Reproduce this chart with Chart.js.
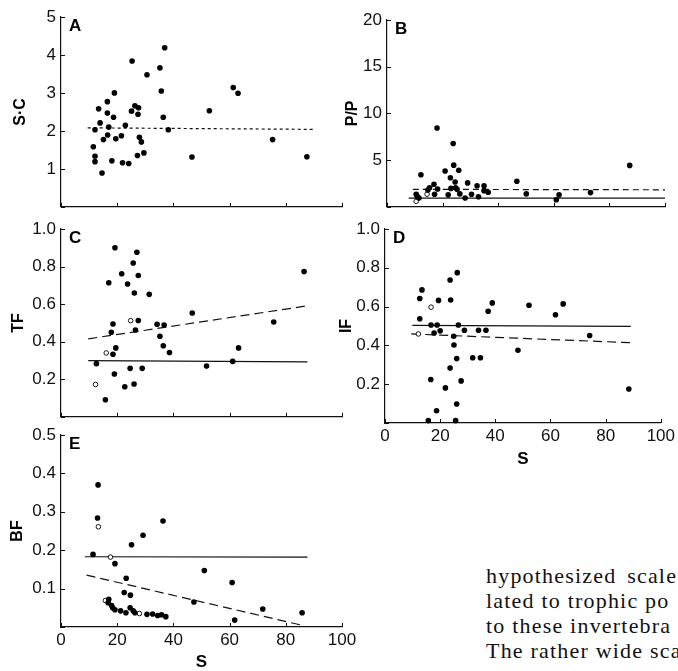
<!DOCTYPE html>
<html><head><meta charset="utf-8">
<script src="https://cdn.jsdelivr.net/npm/chart.js@4.4.1/dist/chart.umd.min.js"></script>
<style>
html,body{margin:0;padding:0;background:#fff;width:678px;height:671px;overflow:hidden;position:relative}
canvas{position:absolute}
#txt{position:absolute;left:486px;top:563px;font-family:"Liberation Serif","DejaVu Serif",serif;font-size:22px;line-height:25px;white-space:nowrap;color:#111;letter-spacing:1.2px}
</style></head><body>
<canvas id="cA" width="352" height="222" style="left:0;top:0"></canvas>
<canvas id="cB" width="343" height="222" style="left:335px;top:0"></canvas>
<canvas id="cC" width="352" height="225" style="left:0;top:207px"></canvas>
<canvas id="cD" width="343" height="265" style="left:335px;top:207px"></canvas>
<canvas id="cE" width="360" height="261" style="left:0;top:410px"></canvas>
<div id="txt"><div style="word-spacing:4px">hypothesized scale</div><div>lated to trophic po</div><div>to these invertebra</div><div>The rather wide sca</div></div>
<script>
// ---- Panel A: S·C vs S
const A_S  = [11.5,12.1,12.1,12.1,13.4,13.9,14.6,15.1,16.5,16.5,16.6,17.0,18.1,18.7,19.0,19.5,21.5,21.9,22.9,24.1,25.3,25.1,26.3,27.2,27.4,27.6,27.9,28.6,29.5,30.6,35.2,35.7,36.4,36.9,38.2,46.6,52.8,61.3,63.0,75.3,87.5];
const A_SC = [1.58,2.03,1.33,1.19,2.58,2.21,0.89,1.77,2.77,2.47,1.89,2.10,1.21,2.36,3.00,1.79,1.87,1.16,2.15,1.14,3.84,2.52,2.66,1.35,2.44,2.61,1.83,1.71,1.42,3.48,3.66,3.05,2.36,4.19,2.03,1.31,2.53,3.14,2.99,1.77,1.32];
const A_dashS = [9.5, 89.8];
const A_dashV = [2.08, 2.04];

// ---- Panel B: P/P vs S
const B_S  = [10.5,10.9,11.5,12.2,14.7,15.3,16.9,17.1,18.0,18.2,20.9,22.0,22.8,23.0,23.8,24.0,24.5,24.7,25.2,25.8,26.2,28.1,29.0,30.4,32.4,32.9,34.9,34.9,36.4,46.7,50.1,60.9,61.9,73.2,87.3];
const B_PP = [1.35,1.10,0.93,3.43,1.80,2.04,2.42,1.35,8.44,1.90,3.84,1.28,3.11,1.97,6.78,4.46,2.66,2.04,1.87,3.91,1.38,0.93,2.56,1.35,2.25,1.07,2.25,1.73,1.56,2.73,1.38,0.76,1.28,1.52,4.43];
const B_openS = [10.5, 14.4];
const B_openV = [0.59, 1.35];
const B_dashS = [9.3, 100];
const B_dashV = [1.87, 1.82];
const B_solidS = [7.8, 100];
const B_solidV = [0.93, 0.93];

// ---- Panel C: TF vs S
const C_S  = [12.6,15.8,17.0,17.9,18.5,18.5,19.0,19.2,19.5,21.6,22.7,23.7,24.6,25.7,26.0,26.1,26.5,27.0,27.5,27.5,28.9,31.4,34.2,35.2,36.7,36.4,38.6,46.7,51.8,61.1,63.2,75.7,86.5];
const C_TF = [0.283,0.091,0.714,0.45,0.494,0.333,0.228,0.90,0.367,0.762,0.16,0.707,0.258,0.819,0.175,0.659,0.462,0.876,0.752,0.513,0.258,0.652,0.493,0.429,0.489,0.378,0.342,0.553,0.27,0.295,0.367,0.505,0.774];
const C_openS = [12.3, 16.1, 24.8];
const C_openV = [0.172, 0.34, 0.512];
const C_dashS = [9.7, 87.7];
const C_dashV = [0.415, 0.591];
const C_solidS = [9.7, 87.7];
const C_solidV = [0.299, 0.292];

// ---- Panel D: IF vs S
const D_S  = [12.6,12.6,13.4,15.7,16.6,16.7,17.8,18.7,18.9,19.4,20.0,21.9,23.6,23.6,23.8,24.9,25.0,25.6,26.0,26.0,26.2,26.6,27.6,28.8,31.8,33.9,34.6,36.6,37.4,38.9,48.2,52.2,61.8,64.6,74.2,88.4];
const D_IF = [0.642,0.537,0.686,0.012,0.224,0.505,0.464,0.063,0.505,0.632,0.475,0.181,0.283,0.737,0.634,0.447,0.402,0.012,0.098,0.332,0.775,0.505,0.217,0.478,0.336,0.478,0.336,0.478,0.576,0.619,0.375,0.607,0.558,0.614,0.451,0.175];
const D_openS = [12.1, 16.7];
const D_openV = [0.459, 0.597];
const D_solidS = [9.9, 89.1];
const D_solidV = [0.503, 0.498];
const D_dashS = [9.5, 88.8];
const D_dashV = [0.459, 0.414];

// ---- Panel E: BF vs S
const E_S  = [11.4,13.2,13.0,17.0,16.8,18.0,18.4,19.2,19.2,21.2,23.1,22.5,23.2,24.6,24.7,25.1,25.7,26.3,29.2,30.6,32.6,34.4,35.8,36.3,37.3,47.3,51.0,60.9,61.8,71.8,85.8];
const E_BF = [0.189,0.370,0.284,0.072,0.063,0.056,0.050,0.045,0.165,0.042,0.037,0.090,0.127,0.050,0.083,0.214,0.042,0.037,0.239,0.033,0.034,0.030,0.032,0.276,0.027,0.065,0.147,0.116,0.018,0.047,0.037];
const E_openS = [13.3, 15.8, 17.6, 27.9];
const E_openV = [0.261, 0.069, 0.182, 0.035];
const E_solidS = [8.5, 87.7];
const E_solidV = [0.183, 0.182];
const E_dashS = [9.1, 86.1];
const E_dashV = [0.135, 0.004];

const X_TICKS = [0, 20, 40, 60, 80, 100];

Chart.defaults.font.family = '"Liberation Sans", Arial, Helvetica, sans-serif';
Chart.defaults.color = '#111';

const zip = (xs, ys) => xs.map((x, i) => ({x: x, y: ys[i]}));

const panelDeco = {
  id: 'panelDeco',
  afterDraw(chart, args, opts) {
    const ctx = chart.ctx, a = chart.chartArea;
    const xs = chart.scales.x, ys = chart.scales.y;
    ctx.save();
    ctx.strokeStyle = '#111';
    ctx.lineWidth = 1;
    xs.ticks.forEach(t => {
      const p = Math.round(xs.getPixelForValue(t.value)) + 0.5;
      ctx.beginPath(); ctx.moveTo(p, a.bottom); ctx.lineTo(p, a.bottom - 4); ctx.stroke();
    });
    ys.ticks.forEach(t => {
      const p = Math.round(ys.getPixelForValue(t.value)) + 0.5;
      ctx.beginPath(); ctx.moveTo(a.left, p); ctx.lineTo(a.left + 4, p); ctx.stroke();
    });
    ctx.fillStyle = '#000';
    ctx.font = 'bold 17px "Liberation Sans", Arial, sans-serif';
    ctx.textBaseline = 'alphabetic';
    ctx.textAlign = 'left';
    ctx.fillText(opts.letter, a.left + 8, a.top + 14);
    ctx.restore();
  }
};

function filled(xs, ys) {
  return {data: zip(xs, ys), pointRadius: 2.8, pointBackgroundColor: '#000', pointBorderWidth: 0, showLine: false, clip: false};
}
function open(xs, ys) {
  return {data: zip(xs, ys), pointRadius: 2.3, pointBackgroundColor: '#fff', pointBorderColor: '#000', pointBorderWidth: 0.9, showLine: false, clip: false};
}
function line(xs, ys, dash) {
  return {data: zip(xs, ys), showLine: true, pointRadius: 0, borderColor: '#111', borderWidth: 1.2, borderDash: dash, fill: false};
}

function makePanel(id, letter, datasets, g) {
  const fmt = g.fmt;
  new Chart(document.getElementById(id), {
    type: 'scatter',
    data: {datasets: datasets},
    options: {
      responsive: false, animation: false, devicePixelRatio: 1,
      layout: {padding: {top: g.padTop, right: g.padRight, left: 0, bottom: 0}},
      plugins: {legend: {display: false}, tooltip: {enabled: false}, panelDeco: {letter: letter}},
      scales: {
        x: {
          type: 'linear', min: 0, max: 100,
          afterBuildTicks: s => { s.ticks = X_TICKS.map(v => ({value: v})); },
          grid: {display: false, drawTicks: false},
          border: {display: true, color: '#111', width: 1.2},
          ticks: {display: g.xLabels, padding: 3, font: {size: 17}, color: '#111', callback: v => String(v)},
          title: {display: g.xLabels, text: 'S', font: {size: 17, weight: 'bold', lineHeight: 1}, color: '#000', padding: {top: 0, bottom: g.xTitlePad}},
          afterFit: s => { s.height = g.xH; }
        },
        y: {
          type: 'linear', min: 0, max: g.yMax,
          afterBuildTicks: s => { s.ticks = g.yTicks.map(v => ({value: v})); },
          grid: {display: false, drawTicks: false},
          border: {display: true, color: '#111', width: 1.2},
          ticks: {padding: 5, font: {size: 17}, color: '#111', callback: v => (Math.abs(v) < 1e-9 ? '' : fmt(v))},
          title: {display: true, text: g.yTitle, font: {size: 16, weight: 'bold', lineHeight: 1}, color: '#000', padding: {top: g.yTitlePad, bottom: 0}},
          afterFit: s => { s.width = g.yW; }
        }
      }
    },
    plugins: [panelDeco]
  });
}

const intFmt = v => String(Math.round(v));
const oneDec = v => v.toFixed(1);

makePanel('cA', 'A', [
  filled(A_S, A_SC),
  line(A_dashS, A_dashV, [3, 3])
], {padTop: 17, padRight: 10, yW: 61, xH: 9, yMax: 5, yTicks: [0,1,2,3,4,5], fmt: intFmt, yTitle: 'S·C', yTitlePad: 13, xLabels: false, xTitlePad: 0});

makePanel('cB', 'B', [
  filled(B_S, B_PP),
  open(B_openS, B_openV),
  line(B_dashS, B_dashV, [6, 4]),
  line(B_solidS, B_solidV, [])
], {padTop: 20, padRight: 13, yW: 52, xH: 10, yMax: 20, yTicks: [0,5,10,15,20], fmt: intFmt, yTitle: 'P/P', yTitlePad: 10, xLabels: false, xTitlePad: 0});

makePanel('cC', 'C', [
  filled(C_S, C_TF),
  open(C_openS, C_openV),
  line(C_dashS, C_dashV, [9, 5]),
  line(C_solidS, C_solidV, [])
], {padTop: 22, padRight: 10, yW: 61, xH: 10, yMax: 1, yTicks: [0,0.2,0.4,0.6,0.8,1.0], fmt: oneDec, yTitle: 'TF', yTitlePad: 11, xLabels: false, xTitlePad: 0});

makePanel('cD', 'D', [
  filled(D_S, D_IF),
  open(D_openS, D_openV),
  line(D_solidS, D_solidV, []),
  line(D_dashS, D_dashV, [9, 5])
], {padTop: 22, padRight: 13, yW: 50, xH: 49, yMax: 1, yTicks: [0,0.2,0.4,0.6,0.8,1.0], fmt: oneDec, yTitle: 'IF', yTitlePad: 4, xLabels: true, xTitlePad: 4.5});

makePanel('cE', 'E', [
  filled(E_S, E_BF),
  open(E_openS, E_openV),
  line(E_solidS, E_solidV, []),
  line(E_dashS, E_dashV, [9, 5])
], {padTop: 25, padRight: 18, yW: 61, xH: 44, yMax: 0.5, yTicks: [0,0.1,0.2,0.3,0.4,0.5], fmt: oneDec, yTitle: 'BF', yTitlePad: 10, xLabels: true, xTitlePad: 0});
</script>
</body></html>
